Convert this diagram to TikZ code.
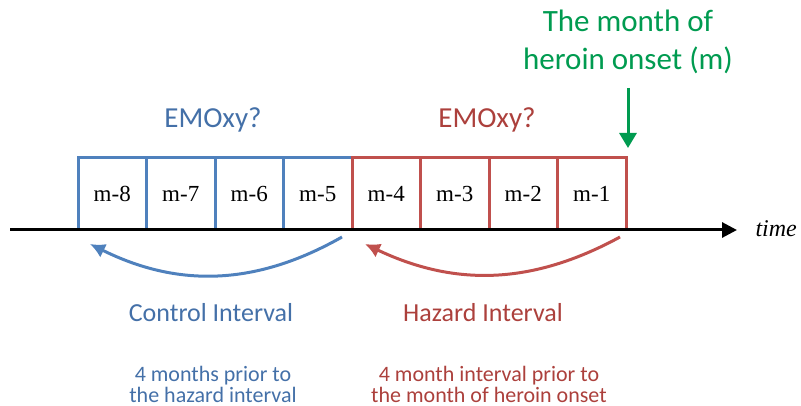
\documentclass[tikz,border=0pt]{standalone}
\usepackage{fontspec}
\setmainfont{Carlito}
\newfontfamily\boxfont{Liberation Serif}
\usetikzlibrary{arrows.meta,positioning}
\definecolor{ctrlblue}{RGB}{79,129,189}
\definecolor{ctrltext}{RGB}{68,112,168}
\definecolor{hazred}{RGB}{192,80,77}
\definecolor{haztext}{RGB}{172,64,60}
\definecolor{onsetgreen}{RGB}{0,155,80}
\tikzset{
  monthbox/.style={draw,line width=3pt,fill=white,minimum width=68.5pt,minimum height=72pt,inner sep=0pt,font=\boxfont\fontsize{23}{23}\selectfont},
  qtext/.style={font=\fontsize{29}{29}\selectfont,anchor=base},
  ivtext/.style={font=\fontsize{26}{26}\selectfont,anchor=base},
  subtext/.style={font=\fontsize{22}{21}\selectfont,align=center},
  curvearrow/.style={line width=3pt,-{Latex[length=15pt,width=15pt]}}
}

\begin{document}
\begin{tikzpicture}[x=1pt,y=-1pt]
                \useasboundingbox (0,0) rectangle (801,406);
                % month boxes
                \foreach \i/\lab in {1/8,2/7,3/6,4/5}
                    \node[monthbox,draw=ctrlblue] (b\i) at ({78+68.5*(\i-0.5)},194) {m-\lab};
                \foreach \i/\lab in {5/4,6/3,7/2,8/1}
                    \node[monthbox,draw=hazred] (b\i) at ({78+68.5*(\i-0.5)},194) {m-\lab};
                % time axis
                \coordinate (tstart) at (10,230);
                \coordinate (tend) at (737,230);
                \draw[line width=3pt,-{Triangle[length=15pt,width=15pt]}] (tstart) -- (tend);
                \node[font=\boxfont\itshape\fontsize{24}{24}\selectfont,anchor=base west] (time) at (752,237) {time};
                % onset
                \node[onsetgreen,font=\fontsize{31}{38}\selectfont,align=center] (onset) at (628,42) {The month of\\heroin onset (m)};
                \coordinate (gtop) at (628,88);
                \coordinate (gtip) at (628,148);
                \draw[onsetgreen,line width=3pt,-{Triangle[length=15pt,width=17pt]}] (gtop) -- (gtip);
                \node[qtext,ctrltext] (qctrl) at (213,128) {EMOxy?};
                \node[qtext,haztext] (qhaz) at (487,128) {EMOxy?};
                % interval arrows
                \coordinate (cs) at (342,237);
                \coordinate (ce) at (90,244);
                \coordinate (hs) at (620,237);
                \coordinate (he) at (365,244);
                \draw[curvearrow,ctrlblue] (cs) to[bend left=28] (ce);
                \draw[curvearrow,hazred] (hs) to[bend left=27] (he);
                \node[ivtext,ctrltext] (ctrl) at (211,322) {Control Interval};
                \node[ivtext,haztext] (haz) at (483,322) {Hazard Interval};
                \node[subtext,ctrltext] (ctrlsub) at (213,384) {4 months prior to\\the hazard interval};
                \node[subtext,haztext] (hazsub) at (489,384) {4 month interval prior to\\the month of heroin onset};
            \end{tikzpicture}
\end{document}
